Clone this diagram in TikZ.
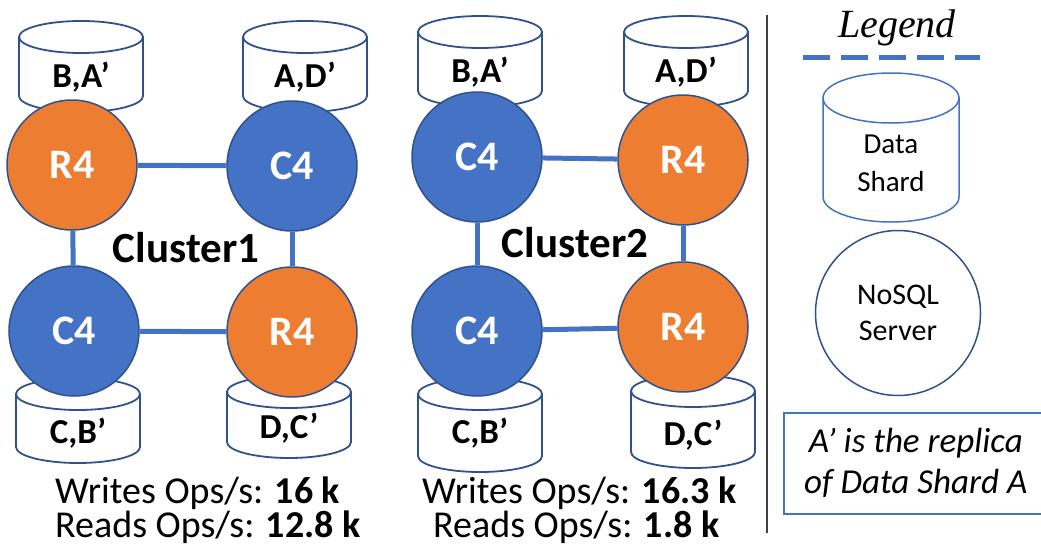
\documentclass[tikz,border=0pt]{standalone}
\usepackage{fontspec}
\setmainfont{Carlito}
\newfontfamily\legendfont{Liberation Serif}
\usepackage{tikz}
\definecolor{ofblue}{HTML}{4472C4}
\definecolor{oforange}{HTML}{ED7D31}
\definecolor{ofdark}{HTML}{2F528F}
\tikzstyle{server} = [circle, draw=ofdark, line width=1.5pt, minimum size=130pt,
                 inner sep=0pt, text=white, font=\fontsize{42}{50}\selectfont\bfseries]
\tikzstyle{link} = [draw=ofblue, line width=5pt]
\tikzstyle{shard} = [draw=ofdark, line width=1.8pt, fill=white]
\tikzstyle{shardlabel} = [font=\fontsize{35}{42}\selectfont\bfseries]
\tikzstyle{cluster} = [font=\fontsize{43}{50}\selectfont\bfseries]
\tikzstyle{stats} = [anchor=base west, inner sep=0pt, font=\fontsize{38}{44}\selectfont]

\begin{document}
\begin{tikzpicture}[x=1pt,y=-1pt]
\useasboundingbox (0,0) rectangle (1041,546);

% data shards
\foreach \x/\yt/\yb/\ly/\name/\txt in {81/21/112/77/sba/{B,A’}, 305/21/112/77/sad/{A,D’},
        78/378/463/433/scb/{C,B’}, 289/376/458/428/sdc/{D,C’},
        480/16/107/72/tba/{B,A’}, 686/16/107/72/tad/{A,D’},
        480/378/472/433/tcb/{C,B’}, 693/375/468/435/tdc/{D,C’}}
{
	\path[shard] (\x-62,\yt+16) -- (\x-62,\yb-16)
		arc[start angle=180, end angle=0, x radius=62, y radius=16]
		-- (\x+62,\yt+16) -- cycle;
	\path[shard] (\x,\yt+16) ellipse[x radius=62, y radius=16];
	\node [shardlabel] (\name) at (\x,\ly) {\txt};
}

% cluster 1
\node [server, fill=oforange] (r1top) at (72,165) {R4};
\node [server, fill=ofblue] (c1top) at (292,166) {C4};
\node [server, fill=ofblue] (c1bot) at (74,331) {C4};
\node [server, fill=oforange] (r1bot) at (292,332) {R4};
\path[link] (r1top) -- (c1top);
\path[link] (r1top) -- (c1bot);
\path[link] (c1top) -- (r1bot);
\path[link] (c1bot) -- (r1bot);
\node [cluster] (cl1) at (186,248) {Cluster1};

% cluster 2
\node [server, fill=ofblue] (c2top) at (477,157) {C4};
\node [server, fill=oforange] (r2top) at (683,160) {R4};
\node [server, fill=ofblue] (c2bot) at (477,331) {C4};
\node [server, fill=oforange] (r2bot) at (683,327) {R4};
\path[link] (c2top) -- (r2top);
\path[link] (c2top) -- (c2bot);
\path[link] (r2top) -- (r2bot);
\path[link] (c2bot) -- (r2bot);
\node [cluster] (cl2) at (575,243) {Cluster2};

% throughput
\node [stats] (w1) at (55,503) {Writes Ops/s: \textbf{16 k}};
\node [stats] (rd1) at (55,537) {Reads Ops/s: \textbf{12.8 k}};
\node [stats] (w2) at (422,503) {Writes Ops/s: \textbf{16.3 k}};
\node [stats] (rd2) at (433,537) {Reads Ops/s: \textbf{1.8 k}};

% legend
\draw [black!75, line width=1.3pt] (767,15) -- (767,533);
\node [font=\legendfont\itshape\fontsize{40}{46}\selectfont] (legend) at (897,28) {Legend};
\draw [ofblue, line width=5pt, dash pattern=on 27pt off 11pt] (803,57) -- (980,57);
\path [draw=ofblue, line width=1.5pt, fill=white] (823,98) -- (823,197)
	arc[start angle=180, end angle=0, x radius=68, y radius=25] -- (959,98) -- cycle;
\path [draw=ofblue, line width=1.5pt, fill=white] (891,98) ellipse[x radius=68, y radius=25];
\node [align=center, font=\fontsize{29}{38}\selectfont] (legshard) at (891,163) {Data\\Shard};
\node [circle, draw=ofdark, line width=1.5pt, minimum size=165pt, align=center,
	font=\fontsize{30}{36}\selectfont] (legserver) at (898,313) {NoSQL\\Server};
\node [draw=ofblue, line width=1.5pt, anchor=north west, minimum width=264pt,
	minimum height=101pt, align=center, font=\fontsize{35}{41}\selectfont\itshape]
	(legnote) at (783,412) {A’ is the replica\\of Data Shard A};

\end{tikzpicture}
\end{document}
